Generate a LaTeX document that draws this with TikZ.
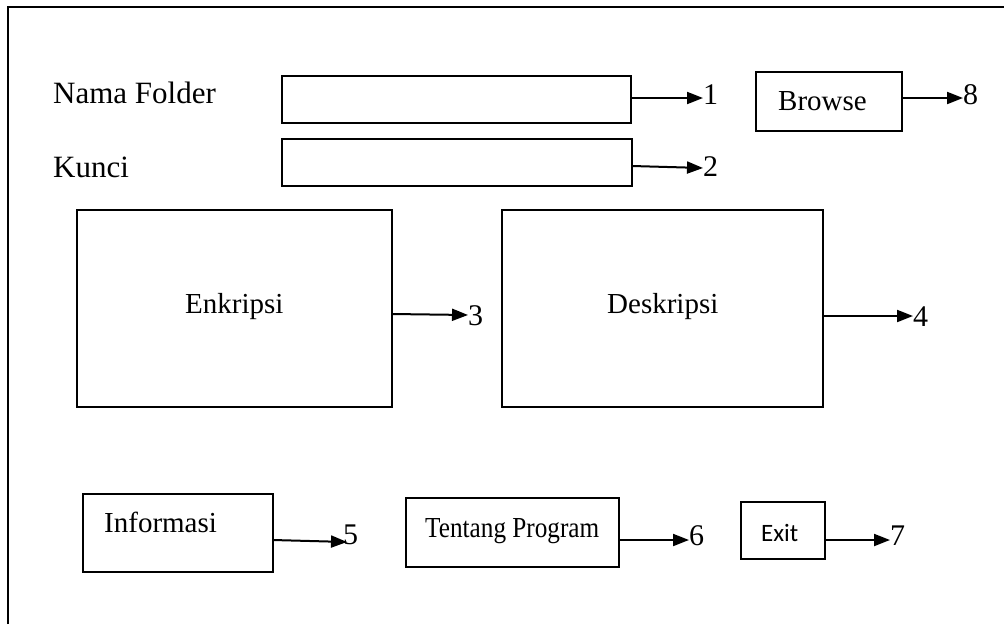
\documentclass[tikz,border=0pt]{standalone}
\usepackage{fontspec}
\setmainfont{Liberation Serif}
\newfontfamily\exitfont{Carlito}
\usetikzlibrary{arrows.meta}
\tikzset{
  box/.style={draw, line width=2pt, inner sep=0pt, outer sep=0pt},
  lbl/.style={inner sep=0pt, anchor=base west, font=\fontsize{29}{31}\selectfont},
  biglbl/.style={inner sep=0pt, anchor=base west, font=\fontsize{31}{34}\selectfont},
  num/.style={inner sep=0pt, anchor=west, font=\fontsize{30}{32}\selectfont},
  arr/.style={line width=2pt, -{Triangle[length=16pt,width=12pt]}},
  frame/.style={line width=2pt}
}
\begin{document}
\begin{tikzpicture}[x=1pt,y=-1pt]
\fill[white] (0,0) rectangle (1004,624);
\useasboundingbox (0,0) rectangle (1004,624);
\coordinate (fbl) at (8,624);
\coordinate (ftl) at (8,7);
\coordinate (ftr) at (1004,7);
\draw[frame] (fbl) -- (ftl) -- (ftr);

\node[biglbl] (lnama) at (53,103) {Nama Folder};
\node[biglbl] (lkunci) at (53,177) {Kunci};

\node[box, minimum width=349pt, minimum height=47pt] (b1) at (456.5,99.5) {};
\node[box, minimum width=350pt, minimum height=47pt] (b2) at (457,162.5) {};
\node[box, minimum width=146pt, minimum height=59pt] (browse) at (829,101.5) {};
\node[lbl] (tbrowse) at (778,110) {Browse};

\node[box, minimum width=315pt, minimum height=197pt] (enk) at (234.5,308.5) {};
\node[lbl] (tenk) at (185,313) {Enkripsi};
\node[box, minimum width=321pt, minimum height=197pt] (desk) at (662.5,308.5) {};
\node[lbl] (tdesk) at (607,313) {Deskripsi};

\node[box, minimum width=190pt, minimum height=78pt] (inf) at (178,533) {};
\node[lbl] (tinf) at (104,532) {Informasi};
\node[box, minimum width=213pt, minimum height=69pt] (tent) at (512.5,532.5) {};
\node[lbl] (ttent) at (425,537) {\scalebox{0.87}[1]{Tentang Program}};
\node[box, minimum width=84pt, minimum height=57pt] (exit) at (783,530.5) {};
\node[lbl, font=\exitfont\fontsize{25}{28}\selectfont] (texit) at (761,541) {Exit};

\node[num] (n1) at (703,95) {1};
\node[num] (n2) at (703,167) {2};
\node[num] (n3) at (468,316) {3};
\node[num] (n4) at (913,317) {4};
\node[num] (n5) at (343,535) {5};
\node[num] (n6) at (689,536) {6};
\node[num] (n7) at (890,536) {7};
\node[num] (n8) at (963,95) {8};

\draw[arr] ([yshift=1.5pt]b1.east) -- ([yshift=-3pt]n1.west);
\draw[arr] ([yshift=-3.5pt]b2.east) -- ([yshift=-1pt]n2.west);
\draw[arr] ([yshift=-5.5pt]enk.east) -- ([yshift=1pt]n3.west);
\draw[arr] ([yshift=-7.5pt]desk.east) -- ([yshift=1pt]n4.west);
\draw[arr] ([yshift=-7pt]inf.east) -- ([xshift=4pt,yshift=-7pt]n5.west);
\draw[arr] ([yshift=-7.5pt]tent.east) -- ([yshift=-4pt]n6.west);
\draw[arr] ([yshift=-9.5pt]exit.east) -- ([yshift=-4pt]n7.west);
\draw[arr] ([yshift=3.5pt]browse.east) -- ([yshift=-3pt]n8.west);
\end{tikzpicture}
\end{document}
